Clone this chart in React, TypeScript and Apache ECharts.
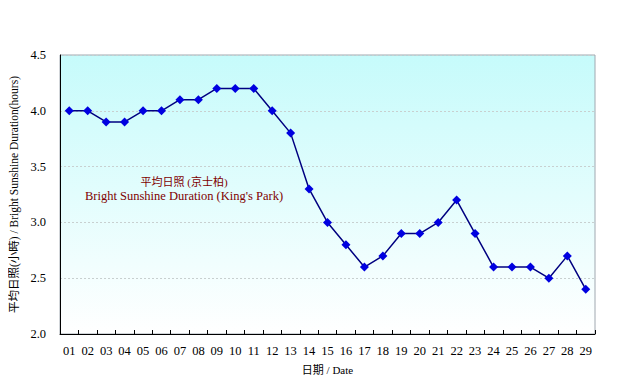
import React, { useEffect, useRef } from "react";
import * as echarts from "echarts";

const dates = ["01","02","03","04","05","06","07","08","09","10","11","12","13","14","15","16","17","18","19","20","21","22","23","24","25","26","27","28","29"];
const sunshine = [4.0,4.0,3.9,3.9,4.0,4.0,4.1,4.1,4.2,4.2,4.2,4.0,3.8,3.3,3.0,2.8,2.6,2.7,2.9,2.9,3.0,3.2,2.9,2.6,2.6,2.6,2.5,2.7,2.4];
const yTicks = [2.0, 2.5, 3.0, 3.5, 4.0, 4.5];

const serif = "'Liberation Serif', 'Noto Sans CJK TC', serif";

export default function App() {
  const ref = useRef<HTMLDivElement>(null);
  useEffect(() => {
    if (!ref.current) return;
    const chart = echarts.init(ref.current, null, { renderer: "svg" });
    chart.setOption({
      animation: false,
      backgroundColor: "#ffffff",
      grid: {
        left: 58, right: 40, top: 55, bottom: 56,
        show: true,
        borderColor: "#a0a8b0",
        borderWidth: 1,
        backgroundColor: new echarts.graphic.LinearGradient(0, 0, 0, 1, [
          { offset: 0, color: "#c6fbfb" },
          { offset: 1, color: "#ffffff" },
        ]),
      },
      graphic: [
        {
          type: "text",
          x: 184, y: 182,
          style: { text: "平均日照 (京士柏)", fill: "#800000", font: "11px " + serif, align: "center", verticalAlign: "middle" },
        },
        {
          type: "text",
          x: 184, y: 196,
          style: { text: "Bright Sunshine Duration (King's Park)", fill: "#800000", font: "12.5px " + serif, align: "center", verticalAlign: "middle" },
        },
      ],
      xAxis: {
        type: "category",
        data: dates,
        boundaryGap: true,
        name: "日期 / Date",
        nameLocation: "middle",
        nameGap: 30,
        nameTextStyle: { fontFamily: serif, fontSize: 11, color: "#000" },
        axisLine: { lineStyle: { color: "#000", width: 1 } },
        axisTick: { show: true, length: 4, inside: true, lineStyle: { color: "#000" } },
        axisLabel: { fontFamily: serif, fontSize: 12.5, color: "#000", margin: 11, interval: 0 },
        splitLine: { show: false },
      },
      yAxis: {
        type: "value",
        min: yTicks[0],
        max: yTicks[yTicks.length - 1],
        interval: 0.5,
        name: "平均日照(小時) / Bright Sunshine Duration(hours)",
        nameLocation: "middle",
        nameGap: 37,
        nameTextStyle: { fontFamily: serif, fontSize: 11.5, color: "#000" },
        axisLine: { show: true, lineStyle: { color: "#000", width: 1 } },
        axisTick: { show: false },
        axisLabel: { fontFamily: serif, fontSize: 12.5, color: "#000", margin: 14, formatter: (v: number) => v.toFixed(1) },
        splitLine: { show: true, lineStyle: { color: "#c8d0d0", type: [2, 2], width: 1 } },
      },
      series: [
        {
          type: "line",
          data: sunshine,
          symbol: "diamond",
          symbolSize: 9,
          itemStyle: { color: "#0000e0" },
          lineStyle: { color: "#000080", width: 1.5 },
        },
      ],
    });
    return () => chart.dispose();
  }, []);
  return <div ref={ref} style={{ width: 635, height: 390, margin: -8 }} />;
}
